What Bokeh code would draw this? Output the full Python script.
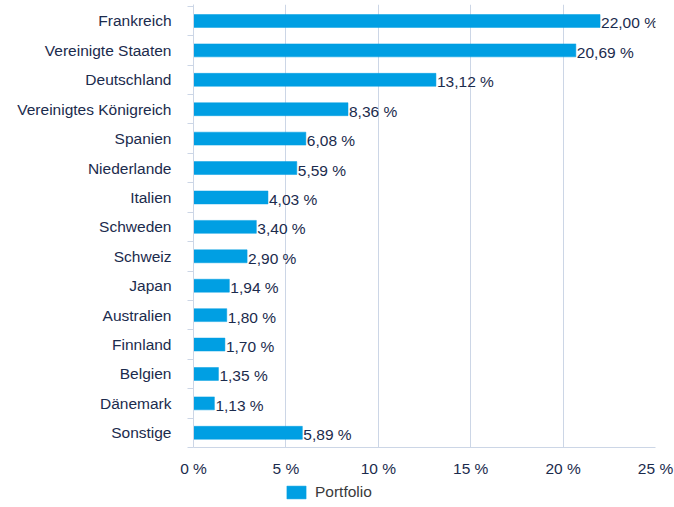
from bokeh.plotting import figure
from bokeh.layouts import column
from bokeh.models import (ColumnDataSource, Range1d, FixedTicker, Legend, LegendItem)
from bokeh.core.properties import value
from bokeh.embed import file_html
from bokeh.resources import INLINE

countries = ["Frankreich", "Vereinigte Staaten", "Deutschland", "Vereinigtes Königreich",
             "Spanien", "Niederlande", "Italien", "Schweden", "Schweiz", "Japan",
             "Australien", "Finnland", "Belgien", "Dänemark", "Sonstige"]
weights = [22.00, 20.69, 13.12, 8.36, 6.08, 5.59, 4.03, 3.40, 2.90, 1.94,
           1.80, 1.70, 1.35, 1.13, 5.89]
x_ticks = [0, 5, 10, 15, 20, 25]
x_tick_labels = ["0 %", "5 %", "10 %", "15 %", "20 %", "25 %"]
series_name = "Portfolio"

FONT = "Liberation Sans"
FS = "15.5px"
TXT = "#1b2b4d"
GRID = "#ccd6e6"
BAR = "#009fe3"

idx = list(range(len(countries)))
labels = [f"{v:.2f}".replace(".", ",") + " %" for v in weights]
src = ColumnDataSource(dict(y=idx, v=weights, lab=labels))

p = figure(width=674, height=482, output_backend="svg", toolbar_location=None,
           x_range=Range1d(0, 25), y_range=Range1d(14.5, -0.56),
           min_border_left=193, min_border_right=19, min_border_top=4,
           min_border_bottom=35)
p.outline_line_color = None
p.background_fill_color = "white"

r = p.hbar(y="y", right="v", left=0, height=0.44, source=src,
           fill_color=BAR, line_color=BAR, line_width=0.5)
p.text(x="v", y="y", text="lab", source=src, x_offset=1, y_offset=2,
       text_baseline="middle", text_align="left", text_color=TXT,
       text_font=value(FONT), text_font_size=FS)

# x axis
xa = p.xaxis[0]
xa.ticker = FixedTicker(ticks=x_ticks)
xa.major_label_overrides = {t: l for t, l in zip(x_ticks, x_tick_labels)}
xa.axis_line_color = GRID
xa.major_tick_line_color = None
xa.major_tick_out = 0
xa.major_tick_in = 0
xa.minor_tick_line_color = None
xa.minor_tick_out = 0
xa.major_label_text_font = FONT
xa.major_label_text_font_size = FS
xa.major_label_text_color = TXT
xa.major_label_standoff = 12

# y axis
ya = p.yaxis[0]
ya.ticker = FixedTicker(ticks=idx, minor_ticks=[i - 0.5 for i in range(len(countries) + 1)])
ya.major_label_overrides = {i: c for i, c in zip(idx, countries)}
ya.axis_line_color = GRID
ya.major_tick_line_color = None
ya.major_tick_out = 0
ya.major_tick_in = 0
ya.minor_tick_line_color = GRID
ya.minor_tick_out = 6
ya.minor_tick_in = 0
ya.major_label_text_font = FONT
ya.major_label_text_font_size = FS
ya.major_label_text_color = TXT
ya.major_label_standoff = 16

p.xgrid.ticker = FixedTicker(ticks=x_ticks)
p.xgrid.grid_line_color = GRID
p.ygrid.grid_line_color = None

# legend strip (its renderer shares the series data but lies outside its view)
p2 = figure(width=662, height=25, output_backend="svg", toolbar_location=None,
            x_range=Range1d(0, 25), y_range=Range1d(100, 101),
            x_axis_location=None, y_axis_location=None,
            min_border_left=0, min_border_right=0, min_border_top=0,
            min_border_bottom=0)
p2.outline_line_color = None
p2.xgrid.visible = False
p2.ygrid.visible = False
r2 = p2.hbar(y="y", right="v", left=0, height=0.44, source=src,
             fill_color=BAR, line_color=BAR, line_width=0.5)
legend = Legend(items=[LegendItem(label=series_name, renderers=[r2])],
                location=(91, 6), orientation="horizontal",
                padding=0, margin=0, spacing=0,
                glyph_width=24, glyph_height=16, label_height=16,
                label_standoff=7, border_line_alpha=0, background_fill_alpha=0,
                label_text_font=FONT, label_text_font_size=FS,
                label_text_color="#3a3a3a")
p2.add_layout(legend, "center")

layout = column(p, p2, spacing=0)
open("out.html", "w").write(file_html(layout, INLINE))
